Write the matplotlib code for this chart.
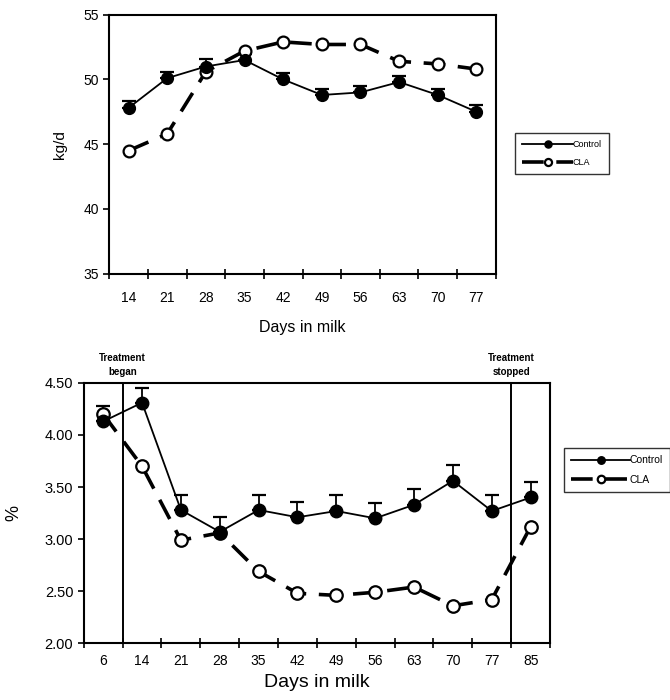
import matplotlib.pyplot as plt
import numpy as np

plt.rcParams['font.family'] = ['Liberation Sans', 'DejaVu Sans']

# ---------------- Data ----------------
# top panel: milk yield
days_top = ['14', '21', '28', '35', '42', '49', '56', '63', '70', '77']
control_top = [47.8, 50.1, 51.0, 51.5, 50.0, 48.8, 49.0, 49.8, 48.8, 47.5]
control_top_se = [0.5, 0.5, 0.6, 0.5, 0.5, 0.5, 0.5, 0.5, 0.5, 0.5]
cla_top = [44.5, 45.8, 50.6, 52.2, 52.9, 52.7, 52.7, 51.4, 51.2, 50.8]

# bottom panel: milk fat %
days_bot = ['6', '14', '21', '28', '35', '42', '49', '56', '63', '70', '77', '85']
control_bot = [4.13, 4.31, 3.28, 3.07, 3.28, 3.21, 3.27, 3.20, 3.33, 3.56, 3.27, 3.40]
control_bot_se = [0.15, 0.14, 0.14, 0.14, 0.14, 0.15, 0.15, 0.15, 0.15, 0.15, 0.15, 0.15]
cla_bot = [4.20, 3.70, 2.99, 3.06, 2.69, 2.48, 2.46, 2.49, 2.54, 2.36, 2.42, 3.12]


def draw_panel(ax, labels, ctrl, ctrl_se, cla, ms, lw_ctrl, lw_cla, pad):
    x = np.arange(len(labels))
    ax.errorbar(x, ctrl, yerr=[np.zeros(len(ctrl)), ctrl_se], fmt='none',
                ecolor='black', elinewidth=1.3, capsize=5, capthick=1.6, zorder=2)
    ax.plot(x, cla, color='black', lw=lw_cla, dashes=(6, 3.5),
            marker='o', ms=ms, mfc='white', mec='black', mew=1.6, label='CLA', zorder=3)
    ax.plot(x, ctrl, color='black', lw=lw_ctrl, marker='o', ms=ms,
            mfc='black', mec='black', label='Control', zorder=4)
    ax.set_xlim(-0.5, len(labels) - 0.5)
    # category boundaries carry the ticks, labels sit in the middle
    ax.set_xticks(np.arange(len(labels) + 1) - 0.5)
    ax.set_xticklabels([])
    ax.set_xticks(x, minor=True)
    ax.set_xticklabels(labels, minor=True)
    ax.tick_params(axis='x', which='major', direction='inout', length=7, width=1.2)
    ax.tick_params(axis='x', which='minor', length=0, pad=pad)
    ax.tick_params(axis='y', direction='out', length=4, width=1.2)
    for s in ax.spines.values():
        s.set_linewidth(1.5)


def add_legend(ax, anchor, fs, hl, pad, spacing):
    h, l = ax.get_legend_handles_labels()
    leg = ax.legend(h[::-1], l[::-1], loc='center left', bbox_to_anchor=anchor,
                    fontsize=fs, frameon=True, fancybox=False, edgecolor='black',
                    handlelength=hl, handletextpad=0.0, borderpad=pad,
                    labelspacing=spacing, markerscale=0.6, borderaxespad=0)
    leg.get_frame().set_linewidth(1.0)


fig = plt.figure(figsize=(6.7, 7.0), dpi=100)

# ---------------- top panel ----------------
ax1 = fig.add_axes([0.163, 0.609, 0.577, 0.370])
draw_panel(ax1, days_top, control_top, control_top_se, cla_top, 8.5, 1.3, 2.6, 12.5)
ax1.set_ylim(35, 55)
ax1.set_yticks([35, 40, 45, 50, 55])
ax1.tick_params(labelsize=10)
ax1.set_ylabel('kg/d', fontsize=11, labelpad=12)
ax1.set_xlabel('Days in milk', fontsize=11.5, labelpad=11)
add_legend(ax1, (1.05, 0.465), 6.5, 5.6, 0.8, 1.0)

# ---------------- bottom panel ----------------
ax2 = fig.add_axes([0.125, 0.081, 0.696, 0.372])
draw_panel(ax2, days_bot, control_bot, control_bot_se, cla_bot, 9, 1.3, 2.6, 8)
ax2.set_ylim(2.0, 4.5)
ax2.set_yticks([2.0, 2.5, 3.0, 3.5, 4.0, 4.5])
ax2.set_yticklabels(['%.2f' % v for v in ax2.get_yticks()])
ax2.tick_params(labelsize=10.5)
ax2.set_ylabel('%', fontsize=13, labelpad=16)
ax2.set_xlabel('Days in milk', fontsize=14, labelpad=4)

# treatment start / stop lines
for xv, txt in [(0.5, 'Treatment\nbegan'), (10.5, 'Treatment\nstopped')]:
    ax2.axvline(xv, color='black', lw=1.4)
    ax2.text(xv, 4.56, txt, ha='center', va='bottom', fontsize=7, fontweight='bold',
             linespacing=1.4)

add_legend(ax2, (1.03, 0.665), 7.5, 5.6, 0.7, 0.9)

fig.savefig('out.png', dpi=100)
